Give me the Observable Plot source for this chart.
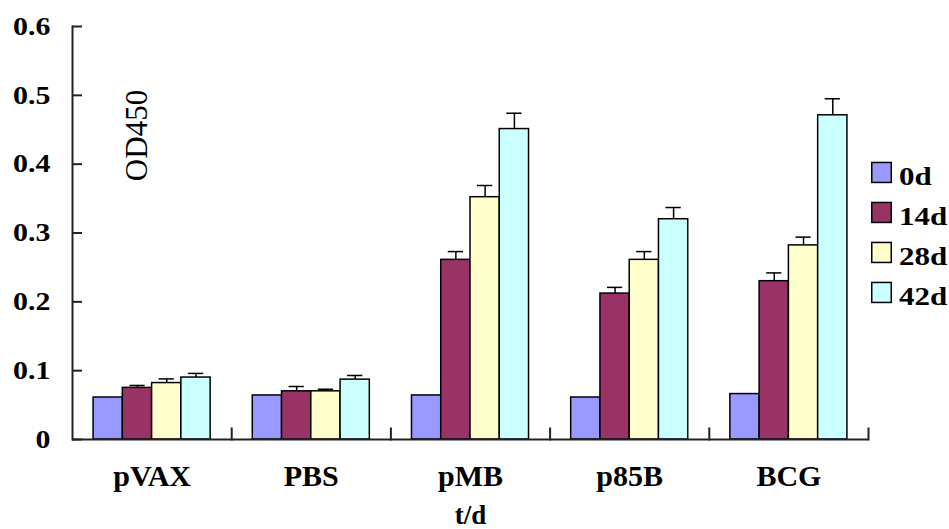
<!DOCTYPE html>
<html><head><meta charset="utf-8">
<script src="https://cdn.jsdelivr.net/npm/d3@7"></script>
<script src="https://cdn.jsdelivr.net/npm/@observablehq/plot@0.6"></script>
<style>
body{margin:0;background:#fff;}
#wrap{position:relative;width:949px;height:529px;font-family:"Liberation Serif","Times New Roman",serif;}
#legend{position:absolute;left:870px;top:161px;}
</style></head>
<body><div id="wrap"></div>
<script>
const groups = ["pVAX", "PBS", "pMB", "p85B", "BCG"];
const days = ["0d", "14d", "28d", "42d"];
const colors = ["#9999ff", "#993366", "#ffffcc", "#ccffff"];
const d0  = [0.061, 0.064, 0.064, 0.061, 0.066];
const d14 = [0.075, 0.070, 0.261, 0.212, 0.230];
const d28 = [0.082, 0.070, 0.352, 0.261, 0.282];
const d42 = [0.090, 0.087, 0.451, 0.320, 0.471];
const e0  = [0, 0, 0, 0, 0];
const e14 = [0.0035, 0.007, 0.012, 0.009, 0.012];
const e28 = [0.006, 0.003, 0.017, 0.012, 0.012];
const e42 = [0.006, 0.006, 0.023, 0.017, 0.024];
const yTicks = [0, 0.1, 0.2, 0.3, 0.4, 0.5, 0.6];
const yLabel = "OD450";
const xLabel = "t/d";

const series = [d0, d14, d28, d42];
const errs = [e0, e14, e28, e42];
const data = groups.flatMap((g, i) => days.map((d, j) => ({group: g, day: d, value: series[j][i], err: errs[j][i]})));
const withErr = data.filter(d => d.err > 0);
const yTickRows = yTicks.map(v => ({group: groups[0], day: days[0], v}));

const W = 949, H = 529, ML = 72, MR = 81, MT = 26, MB = 90;
const facetW = (W - ML - MR) / groups.length;
const xPadOuter = 0.72;
const step = facetW / (days.length + 2 * xPadOuter);
const off = xPadOuter * step;
const tickLen = 10;
const font = '"Liberation Serif","Times New Roman",serif';
const axisColor = "#222";

const chart = Plot.plot({
  width: W, height: H, marginLeft: ML, marginRight: MR, marginTop: MT, marginBottom: MB,
  style: {fontFamily: font, background: "white", color: "black", overflow: "visible"},
  fx: {domain: groups, paddingInner: 0, paddingOuter: 0, round: false},
  x: {domain: days, paddingInner: 0, paddingOuter: xPadOuter, round: false, axis: null},
  y: {domain: [0, 0.6]},
  color: {domain: days, range: colors},
  marks: [
    Plot.axisY(yTicks.slice(), {tickSize: 0, tickPadding: 22, fontSize: 26, fontWeight: "bold", label: null,
      tickFormat: d => d === 0 ? "0" : d.toFixed(1)}),
    Plot.axisFx({anchor: "bottom", tickSize: 0, tickPadding: 25, fontSize: 30, fontWeight: "bold", label: null}),
    Plot.barY(data, {fx: "group", x: "day", y: "value", fill: "day", stroke: "black", strokeWidth: 1.5}),
    Plot.ruleX(withErr, {fx: "group", x: "day", y1: "value", y2: d => d.value + d.err, stroke: "black", strokeWidth: 1.5}),
    Plot.tickY(withErr, {fx: "group", x: "day", y: d => d.value + d.err, stroke: "black", strokeWidth: 1.5, insetLeft: 7, insetRight: 7}),
    Plot.ruleY([0], {stroke: axisColor, strokeWidth: 2}),
    Plot.frame({anchor: "right", insetTop: H - MT - MB - 11, stroke: axisColor, strokeWidth: 2}),
    Plot.frame({anchor: "left", facetAnchor: "left", stroke: axisColor, strokeWidth: 2}),
    // inward ticks on the value axis, in the first group's panel
    Plot.tickY(yTickRows, {fx: "group", x: "day", y: "v", insetLeft: -off, insetRight: step + off - tickLen,
      stroke: axisColor, strokeWidth: 2}),
    Plot.text([yLabel], {text: d => d, facetAnchor: "left", frameAnchor: "top-left", dx: 52, dy: 109, rotate: -90,
      textAnchor: "middle", fontSize: 31, fill: "black"}),
    Plot.text([xLabel], {text: d => d, facet: "super", frameAnchor: "bottom", dy: 84, fontSize: 27, fontWeight: "bold", fill: "black", lineAnchor: "bottom"})
  ]
});
const wrap = document.getElementById("wrap");
wrap.append(chart);

// widen the bold numeric tick labels like the original rendering
d3.select(chart).selectAll('g[aria-label="y-axis tick label"] text').each(function () {
  if (!this.textContent) return;
  const len = this.getComputedTextLength();
  this.setAttribute("textLength", (len * 1.15).toFixed(1));
  this.setAttribute("lengthAdjust", "spacingAndGlyphs");
});

// legend
const leg = d3.select(wrap).append("svg").attr("id", "legend").attr("width", 79).attr("height", 150)
  .style("font-family", font);
const rows = leg.selectAll("g").data(days).join("g").attr("transform", (d, i) => `translate(0,${i * 40})`);
rows.append("rect").attr("x", 1.75).attr("y", 1.45).attr("width", 19.5).attr("height", 20)
  .attr("fill", (d, i) => colors[i]).attr("stroke", "#000").attr("stroke-width", 1.5);
rows.append("text").attr("x", 29).attr("y", 24).attr("font-size", 25).attr("font-weight", "bold").attr("fill", "#000")
  .text(d => d)
  .each(function () {
    const len = this.getComputedTextLength();
    this.setAttribute("textLength", (len * 1.24).toFixed(1));
    this.setAttribute("lengthAdjust", "spacingAndGlyphs");
  });
</script>
</body></html>
